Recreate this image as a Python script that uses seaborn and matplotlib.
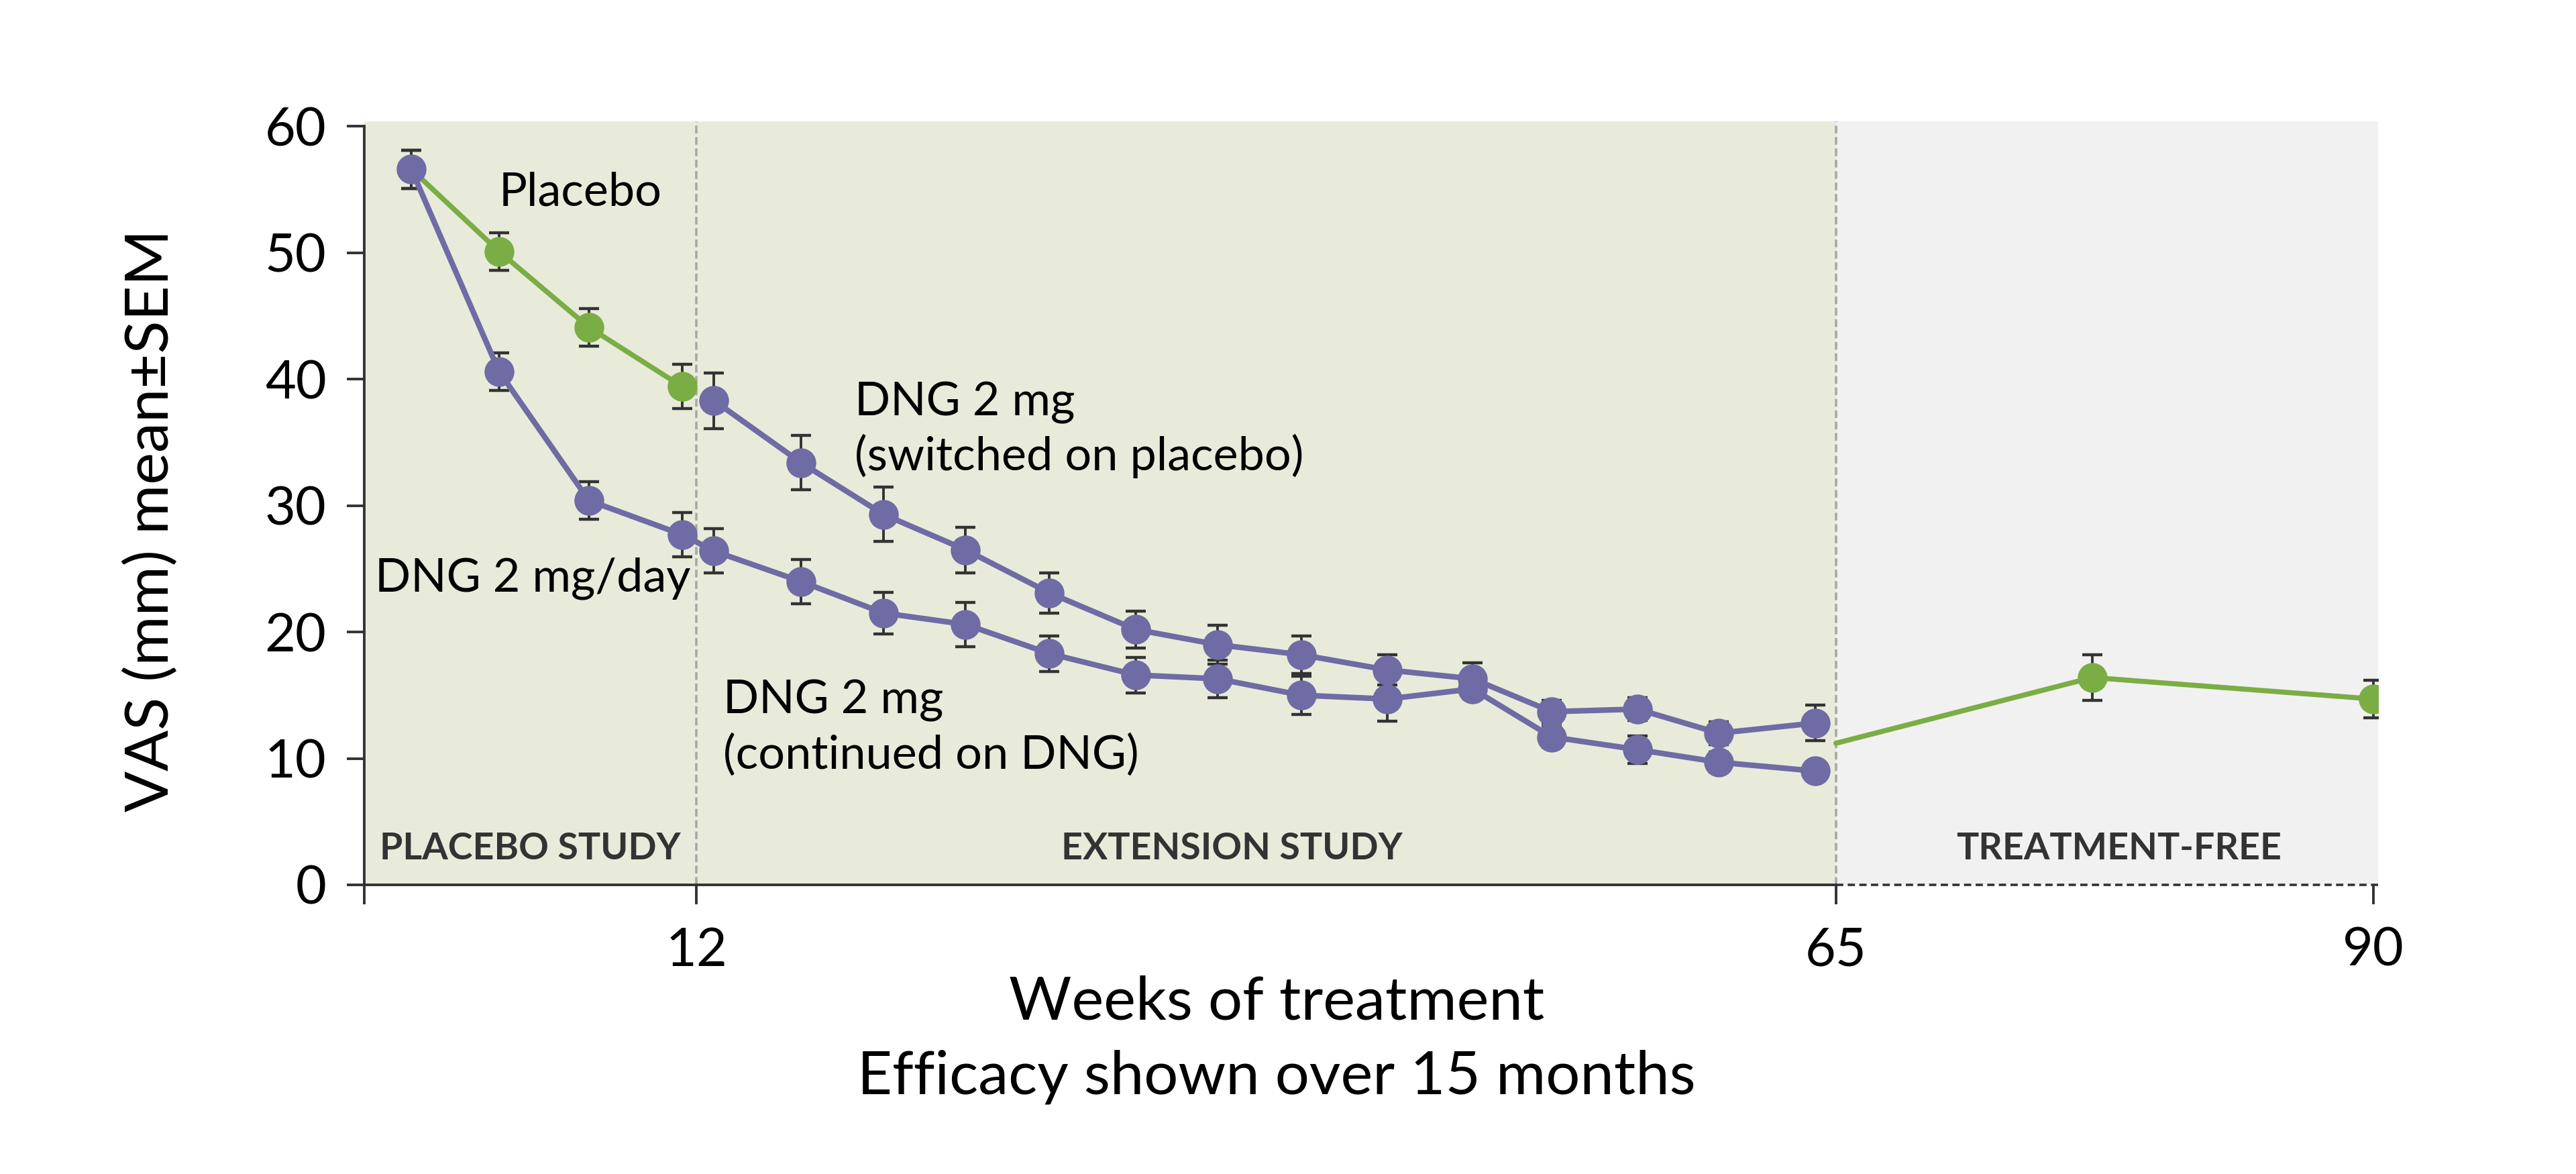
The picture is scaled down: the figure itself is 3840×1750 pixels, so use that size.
import numpy as np
import pandas as pd
import matplotlib
matplotlib.use("Agg")
import matplotlib.pyplot as plt
import seaborn as sns

# ---------------- data ----------------
# DNG 2 mg/day group (continuous purple series)
dng_weeks = [-1.26, 2.82, 7.00, 11.34, 12.82, 16.86, 20.70, 24.52, 28.41,
             32.43, 36.24, 40.14, 44.13, 48.10, 51.78, 55.77, 59.55, 64.05]
dng_vas = [56.6, 40.6, 30.4, 27.7, 26.4, 24.0, 21.5, 20.6, 18.3,
           16.6, 16.3, 15.0, 14.7, 15.5, 11.7, 10.7, 9.7, 9.0]
dng_sem = [1.5, 1.5, 1.5, 1.75, 1.75, 1.75, 1.65, 1.75, 1.4,
           1.4, 1.5, 1.5, 1.75, 0.8, 0.8, 1.1, 0.8, 0.6]

# Placebo group during the placebo study (green)
plc_weeks = [-1.26, 2.82, 7.00, 11.34]
plc_vas = [56.6, 50.1, 44.1, 39.4]
plc_sem = [1.5, 1.5, 1.5, 1.75]

# Placebo group switched to DNG in the extension study (purple)
sw_weeks = [12.82, 16.86, 20.70, 24.52, 28.41, 32.43, 36.24,
            40.14, 44.13, 48.10, 51.78, 55.77, 59.55, 64.05]
sw_vas = [38.3, 33.4, 29.3, 26.5, 23.1, 20.2, 19.0,
          18.2, 17.0, 16.3, 13.7, 13.9, 12.0, 12.8]
sw_sem = [2.2, 2.15, 2.15, 1.8, 1.6, 1.45, 1.55,
          1.5, 1.2, 1.25, 0.9, 0.9, 0.9, 1.4]

# Treatment-free follow-up (green)
tf_weeks = [65.0, 76.93, 90.0]
tf_vas = [11.2, 16.4, 14.7]
tf_sem = [np.nan, 1.8, 1.5]

x_ticks = [12, 65, 90]
y_ticks = [0, 10, 20, 30, 40, 50, 60]
phase_labels = ["PLACEBO STUDY", "EXTENSION STUDY", "TREATMENT-FREE"]

# ---------------- style ----------------
sns.set_theme(style="white")
plt.rcParams["font.family"] = ["Lato", "DejaVu Sans"]

PURPLE = "#6F6BA4"
GREEN = "#7BAD45"
DARK = "#333333"
BG_GREEN = "#E8EBDA"
BG_GREY = "#F1F1F1"
DASH_GREY = "#A8A8A8"

NARROW = ["Liberation Sans Narrow", "Lato", "DejaVu Sans"]

fig = plt.figure(figsize=(38.4, 17.5), dpi=100)
ax = fig.add_axes([543 / 3840, 1 - 1319 / 1750, (3545 - 543) / 3840, (1319 - 180.7) / 1750])

xmin, xmax = -3.45, 90.22
ax.set_xlim(xmin, xmax)
ax.set_ylim(0, 60.4)
ax.set_facecolor("white")

# phase backgrounds
ax.axvspan(xmin, 65, color=BG_GREEN, zorder=0, lw=0)
ax.axvspan(65, xmax, color=BG_GREY, zorder=0, lw=0)
for xv in (12, 65):
    ax.axvline(xv, color=DASH_GREY, lw=2.6, dashes=(3.2, 1.5), zorder=1)

# error bars
err_kw = dict(fmt="none", ecolor=DARK, elinewidth=2.8, capsize=11, capthick=3.2, zorder=2)
ax.errorbar(plc_weeks, plc_vas, yerr=plc_sem, **err_kw)
ax.errorbar(dng_weeks, dng_vas, yerr=dng_sem, **err_kw)
ax.errorbar(sw_weeks, sw_vas, yerr=sw_sem, **err_kw)
ax.errorbar(tf_weeks, tf_vas, yerr=tf_sem, **err_kw)

line_kw = dict(marker="o", markersize=32, markeredgewidth=0, legend=False, ax=ax)
sns.lineplot(x=plc_weeks, y=plc_vas, color=GREEN, linewidth=5.5, markevery=[1, 2, 3], zorder=3, **line_kw)
sns.lineplot(x=tf_weeks, y=tf_vas, color=GREEN, linewidth=5.5, markevery=[1, 2], zorder=3, **line_kw)
sns.lineplot(x=sw_weeks, y=sw_vas, color=PURPLE, linewidth=6, zorder=4, **line_kw)
sns.lineplot(x=dng_weeks, y=dng_vas, color=PURPLE, linewidth=6, zorder=4, **line_kw)

# spines and ticks
sns.despine(ax=ax, top=True, right=True)
ax.spines["left"].set_bounds(0, 60)
ax.spines["bottom"].set_bounds(xmin, 65)
for s in ("left", "bottom"):
    ax.spines[s].set_color(DARK)
    ax.spines[s].set_linewidth(2.8)
    ax.spines[s].set_zorder(5)
ax.plot([65, xmax], [0, 0], color=DARK, lw=2.6, dashes=(3.0, 1.8), clip_on=False, zorder=5)

ax.set_xticks([xmin] + x_ticks)
ax.set_xticklabels([""] + [str(t) for t in x_ticks])
ax.set_yticks(y_ticks)
ax.set_yticklabels([str(t) for t in y_ticks])
ax.tick_params(axis="x", direction="out", length=21, width=2.8, color=DARK, pad=24,
               labelsize=57, labelcolor="black", bottom=True)
ax.tick_params(axis="y", direction="out", length=18.7, width=2.8, color=DARK, pad=22,
               labelsize=57, labelcolor="black", left=True)
for lab in ax.get_xticklabels() + ax.get_yticklabels():
    lab.set_family(NARROW)
ax.grid(False)

# axis labels
fig.text(226 / 3840, 1 - 776 / 1750, "VAS (mm) mean\u00b1SEM", rotation=90,
         ha="center", va="center", fontsize=65, color="black")
fig.text(1903 / 3840, 1 - 1519 / 1750, "Weeks of treatment", ha="center",
         va="baseline", fontsize=65, color="black")
fig.text(1903 / 3840, 1 - 1630 / 1750, "Efficacy shown over 15 months", ha="center",
         va="baseline", fontsize=65, color="black")

# series annotations
ann_kw = dict(fontsize=50.5, color="black", ha="left", va="baseline", zorder=6)
ax.text(2.82, 53.7, "Placebo", **ann_kw)
ax.text(-2.95, 23.24, "DNG 2 mg/day", **ann_kw)
ax.text(19.35, 37.12, "DNG 2 mg", **ann_kw)
ax.text(19.35, 32.81, "(switched on placebo)", **ann_kw)
ax.text(13.25, 13.58, "DNG 2 mg", **ann_kw)
ax.text(13.25, 9.21, "(continued on DNG)", **ann_kw)

# phase labels
ph_kw = dict(fontsize=40, fontweight="bold", color=DARK, ha="center", va="baseline",
             family=NARROW, zorder=6)
ax.text(4.26, 2.04, phase_labels[0], **ph_kw)
ax.text(36.9, 2.04, phase_labels[1], **ph_kw)
ax.text(78.17, 2.04, phase_labels[2], **ph_kw)

fig.savefig("out.png", dpi=100, facecolor="white")
